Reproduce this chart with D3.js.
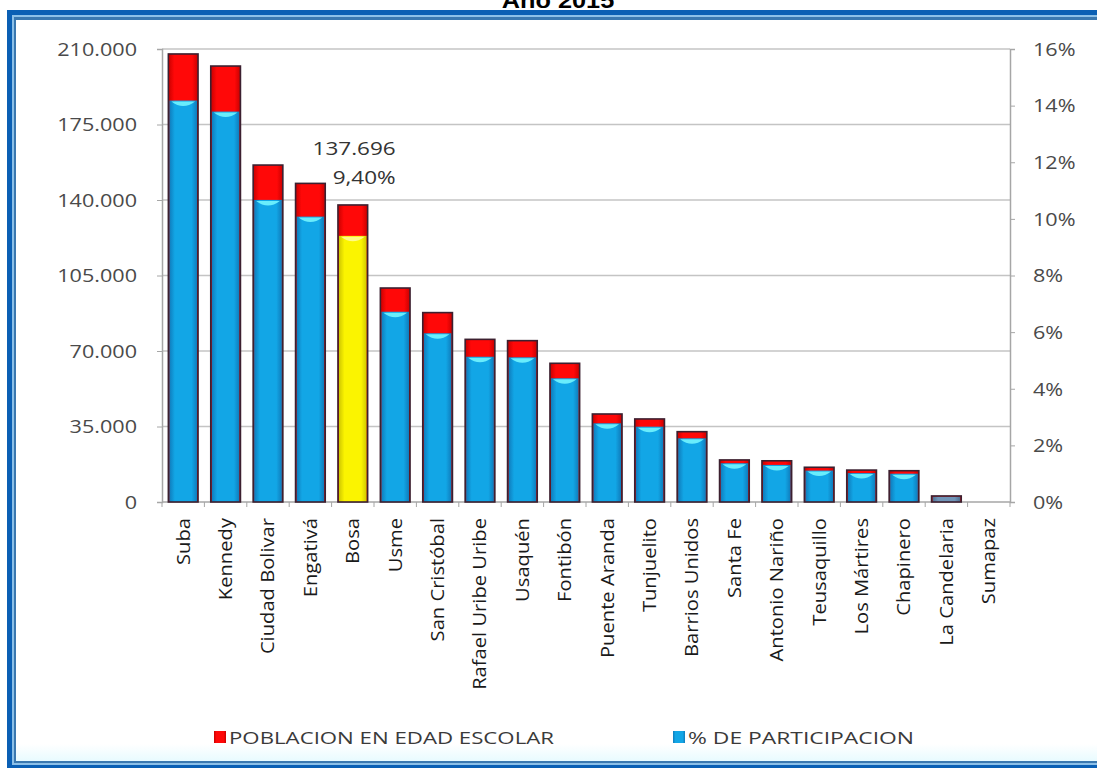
<!DOCTYPE html>
<html><head><meta charset="utf-8">
<script src="https://cdn.jsdelivr.net/npm/d3@7"></script>
<style>body{margin:0;background:#fff;}svg{display:block;}</style>
</head><body>
<svg id="chart" width="1097" height="768"></svg>
<script>
// ---------- DATA ----------
const titleText = "Año 2015";
const categories = ["Suba","Kennedy","Ciudad Bolivar","Engativá","Bosa","Usme","San Cristóbal","Rafael Uribe Uribe","Usaquén","Fontibón","Puente Aranda","Tunjuelito","Barrios Unidos","Santa Fe","Antonio Nariño","Teusaquillo","Los Mártires","Chapinero","La Candelaria","Sumapaz"];
const poblacion = [207700,202100,156200,147700,137696,99200,87800,75400,74800,64300,40800,38500,32600,19500,19100,16100,14800,14500,2800,500];
const participacion = [14.18,13.79,10.67,10.08,9.40,6.72,5.96,5.13,5.11,4.37,2.78,2.66,2.25,1.37,1.31,1.11,1.02,1.00,0.19,0.03];
const leftTicks = [0,35000,70000,105000,140000,175000,210000];
const rightTicks = [0,2,4,6,8,10,12,14,16];
const seriesNames = ["POBLACION EN EDAD ESCOLAR","% DE PARTICIPACION"];
const highlightCategory = "Bosa";
const highlightLabels = ["137.696","9,40%"];

// ---------- LAYOUT ----------
const X0 = 162, X1 = 1010, Y0 = 49, Y1 = 502;
const svg = d3.select("#chart");
const defs = svg.append("defs");
function hgrad(id, edge, mid){
  const g = defs.append("linearGradient").attr("id",id).attr("x1","0").attr("x2","1").attr("y1","0").attr("y2","0");
  [[0,edge],[0.2,mid],[0.8,mid],[1,edge]].forEach(([o,c])=>g.append("stop").attr("offset",o).attr("stop-color",c));
}
hgrad("gRed","#c80000","#ff0808");
hgrad("gBlue","#0f7cbc","#12a6e6");
hgrad("gYel","#d0c800","#fbf400");
hgrad("gGray","#4f6f90","#7195b8");
const vg = defs.append("linearGradient").attr("id","gBottom").attr("x1","0").attr("x2","0").attr("y1","0").attr("y2","1");
vg.append("stop").attr("offset",0).attr("stop-color","#ffffff");
vg.append("stop").attr("offset",1).attr("stop-color","#e8fbff");

// frame
svg.append("rect").attr("x",7).attr("y",10).attr("width",1200).attr("height",800).attr("fill","#0a5fb4");
svg.append("rect").attr("x",12).attr("y",15).attr("width",1200).attr("height",750).attr("fill","#8cc0e8");
svg.append("rect").attr("x",14).attr("y",17).attr("width",1200).attr("height",746).attr("fill","#3a78b0");
svg.append("rect").attr("x",16).attr("y",20).attr("width",1200).attr("height",741).attr("fill","#ffffff");
svg.append("rect").attr("x",16).attr("y",744).attr("width",1200).attr("height",17).attr("fill","url(#gBottom)");

// title (mostly cut off at the top, as in the source image)
svg.append("text").text(titleText)
  .attr("transform","translate(558,8) scale(1.15,1)")
  .attr("text-anchor","middle").attr("font-family","Liberation Sans, Arial, sans-serif")
  .attr("font-weight","bold").attr("font-size",22).attr("fill","#000");

// scales
const x = d3.scaleBand().domain(categories).range([X0,X1]).paddingInner(0.3).paddingOuter(0.15);
const yL = d3.scaleLinear().domain([0,210000]).range([Y1,Y0]);
const yR = d3.scaleLinear().domain([0,16]).range([Y1,Y0]);
const fmt = d3.formatLocale({decimal:",",thousands:".",grouping:[3],currency:["$",""]}).format(",d");

const font = "Open Sans, Noto Sans, sans-serif";
// gridlines
svg.append("g").selectAll("line").data(leftTicks.filter(d=>d>0)).join("line")
  .attr("x1",X0).attr("x2",X1).attr("y1",d=>yL(d)).attr("y2",d=>yL(d))
  .attr("stroke","#c4c4c4").attr("stroke-width",1.5);

// left axis
const axL = svg.append("g").attr("transform",`translate(${X0},0)`)
  .call(d3.axisLeft(yL).tickValues(leftTicks).tickSize(5).tickFormat(fmt));
axL.select(".domain").attr("stroke","#a6a6a6").attr("stroke-width",1.5);
axL.selectAll(".tick line").attr("stroke","#a6a6a6");
axL.selectAll(".tick text").attr("x",null).attr("dy","0.35em")
  .attr("transform","translate(-25,0) scale(1.2,1)")
  .attr("font-family",font).attr("font-size",18).attr("fill","#4a4a4a");

// right axis
const axR = svg.append("g").attr("transform",`translate(${X1},0)`)
  .call(d3.axisRight(yR).tickValues(rightTicks).tickSize(5).tickFormat(d=>d+"%"));
axR.select(".domain").attr("stroke","#a6a6a6").attr("stroke-width",1.5);
axR.selectAll(".tick line").attr("stroke","#a6a6a6");
axR.selectAll(".tick text").attr("x",null).attr("dy","0.35em")
  .attr("transform","translate(23,0) scale(1.2,1)")
  .attr("font-family",font).attr("font-size",18).attr("fill","#4a4a4a");

// x axis baseline and boundary ticks
const step = x.step(), off = step*x.paddingInner()/2;
const bounds = categories.map(c=>x(c)-off).concat([X1]);
svg.append("line").attr("x1",X0).attr("x2",X1).attr("y1",Y1).attr("y2",Y1).attr("stroke","#a6a6a6").attr("stroke-width",1.5);
svg.append("g").selectAll("line").data(bounds).join("line")
  .attr("x1",d=>d).attr("x2",d=>d).attr("y1",Y1).attr("y2",Y1+5).attr("stroke","#a6a6a6");

// bars
const bw = x.bandwidth();
const rows = categories.map((c,i)=>({c,p:poblacion[i],pc:participacion[i]}));
const tall = d=>Y1-yL(d.p)>2;
const gb = svg.append("g");
gb.selectAll("rect.red").data(rows.filter(tall)).join("rect").attr("class","red")
  .attr("x",d=>x(d.c)).attr("width",bw)
  .attr("y",d=>yL(d.p)).attr("height",d=>Y1-yL(d.p))
  .attr("fill","url(#gRed)");
gb.selectAll("rect.blue").data(rows.filter(tall)).join("rect").attr("class","blue")
  .attr("x",d=>x(d.c)+1).attr("width",bw-2)
  .attr("y",d=>yR(d.pc)).attr("height",d=>Y1-yR(d.pc))
  .attr("fill",d=>d.c===highlightCategory?"url(#gYel)":(Y1-yR(d.pc)>10?"url(#gBlue)":"url(#gGray)"));
gb.selectAll("path.hl").data(rows.filter(d=>Y1-yR(d.pc)>10)).join("path").attr("class","hl")
  .attr("d",d=>{const x0=x(d.c)+3,x1=x(d.c)+bw-3,y=yR(d.pc)+1,m=x(d.c)+bw/2;
    return `M${x0},${y} Q${m},${y+9} ${x1},${y} Z`;})
  .attr("fill",d=>d.c===highlightCategory?"#fffb90":"#6ff0fd").attr("opacity",0.95);
// outlines on bars
gb.selectAll("rect.out").data(rows.filter(tall)).join("rect").attr("class","out")
  .attr("x",d=>x(d.c)).attr("width",bw)
  .attr("y",d=>yL(d.p)).attr("height",d=>Y1-yL(d.p))
  .attr("fill","none").attr("stroke","#3c2030").attr("stroke-width",1.6);

// highlight labels
const hx = x(highlightCategory)+bw+28;
svg.append("text").text(highlightLabels[0]).attr("transform",`translate(${hx},155) scale(1.25,1)`)
  .attr("text-anchor","end").attr("font-family",font).attr("font-size",18).attr("fill","#333");
svg.append("text").text(highlightLabels[1]).attr("transform",`translate(${hx},184) scale(1.25,1)`)
  .attr("text-anchor","end").attr("font-family",font).attr("font-size",18).attr("fill","#333");

// category labels
svg.append("g").selectAll("text").data(categories).join("text").text(d=>d)
  .attr("transform",d=>`translate(${x(d)+bw/2},518) rotate(-90) scale(1.12,1)`)
  .attr("text-anchor","end").attr("dy","0.36em")
  .attr("font-family",font).attr("font-size",18).attr("fill","#1a1a1a");

// legend
const leg = svg.append("g");
const legItems = [{n:seriesNames[0],x:214,f:"url(#gRed)",w:325},{n:seriesNames[1],x:673,f:"url(#gBlue)",w:226}];
legItems.forEach(it=>{
  leg.append("rect").attr("x",it.x).attr("y",731).attr("width",12).attr("height",12).attr("fill",it.f);
  leg.append("text").text(it.n).attr("x",it.x+15).attr("y",744)
    .attr("textLength",it.w).attr("lengthAdjust","spacingAndGlyphs")
    .attr("font-family",font).attr("font-size",17).attr("fill","#3a3a3a");
});
</script>
</body></html>
